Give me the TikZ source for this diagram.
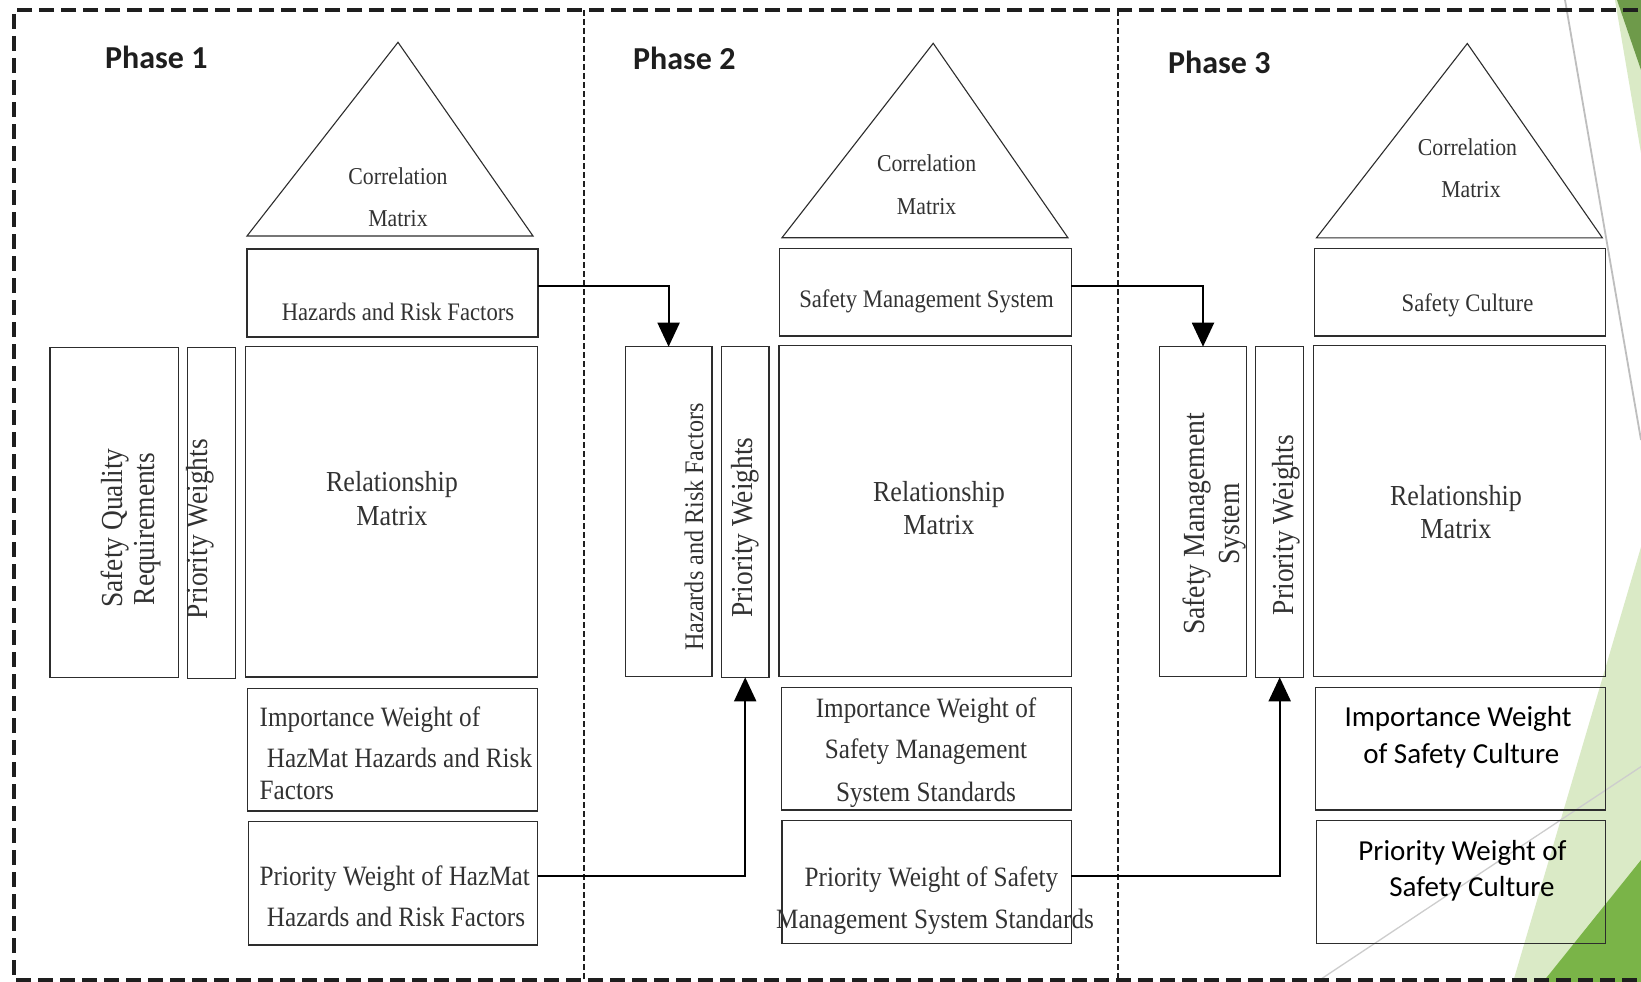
\documentclass[tikz,border=0pt]{standalone}
\usepackage{fontspec}
\usetikzlibrary{arrows.meta}
\newfontfamily\mingfont[FakeStretch=0.9]{Liberation Serif}
\newfontfamily\calibrifont{Carlito}
\definecolor{boxc}{RGB}{45,45,45}
\definecolor{txtc}{RGB}{50,50,50}
\definecolor{phasec}{RGB}{30,30,30}
\definecolor{framec}{RGB}{30,30,30}
\definecolor{lgreen}{RGB}{218,234,198}
\definecolor{dgreen}{RGB}{122,180,72}
\definecolor{dgreentop}{RGB}{110,154,74}
\definecolor{lgrey}{RGB}{190,190,190}
\definecolor{lgrey2}{RGB}{205,205,205}
\newcommand\bx[5]{\node[box,minimum width={#4-#2},minimum height={#5-#3}] (#1) at ({(#2+#4)/2},{(#3+#5)/2}) {};}
\tikzset{
  box/.style={draw=boxc, line width=1.4pt, inner sep=0pt, outer sep=0pt, rectangle},
  tri/.style={draw=boxc, line width=1.1pt, line join=miter},
  mt/.style={font=\mingfont\fontsize{#1}{#1}\selectfont, text=txtc, inner sep=0pt, anchor=base},
  ct/.style={font=\calibrifont\fontsize{#1}{#1}\selectfont, text=black, inner sep=0pt, anchor=base},
  phase/.style={font=\calibrifont\bfseries\fontsize{32}{32}\selectfont, text=phasec, inner sep=0pt, anchor=base west},
  conn/.style={draw=black, line width=2pt, -{Triangle[width=22pt,length=24pt]}},
  frame/.style={draw=framec, line width=3.5pt, dash pattern=on 15pt off 7pt},
  sepline/.style={draw=framec, line width=2pt, dash pattern=on 6pt off 3pt},
}
\begin{document}
\begin{tikzpicture}[x=1pt,y=-1pt]
\useasboundingbox (0,0) rectangle (1641,982);
\clip (0,0) rectangle (1641,982);
\fill[white] (0,0) rectangle (1641,982);
% background decoration
\fill[lgreen] (1615,0) -- (1660,0) -- (1660,160) -- (1641,153) -- cycle;
\fill[dgreentop] (1617,0) -- (1660,0) -- (1660,75) -- (1641,70) -- cycle;
\fill[lgreen] (1641,547) -- (1513,982) -- (1660,982) -- (1660,547) -- cycle;
\fill[dgreen] (1641,860) -- (1543,982) -- (1660,982) -- (1660,860) -- cycle;
\draw[lgrey, line width=1.8pt] (1565,0) -- (1641,440);
\draw[lgrey2, line width=1.3pt] (1645,764) -- (1312,985);
% frame
\draw[frame] (1660,10) -- (14,10) -- (14,980) -- (1660,980);
\coordinate (s1t) at (584.4,10); \coordinate (s1b) at (584.4,980);
\coordinate (s2t) at (1118.3,10); \coordinate (s2b) at (1118.3,980);
\draw[sepline] (s1t) -- (s1b);
\draw[sepline] (s2t) -- (s2b);
% phase labels
\node[phase] (ph1) at (105,69) {Phase 1};
\node[phase] (ph2) at (633,70) {Phase 2};
\node[phase] (ph3) at (1168,73.3) {Phase 3};
% triangles
\draw[tri] (398,42.3) -- (533,236) -- (247,236) -- cycle;
\draw[tri] (933.2,43.3) -- (1067.9,237.7) -- (782,237.7) -- cycle;
\draw[tri] (1467.3,43.5) -- (1602.3,237.8) -- (1316.5,237.8) -- cycle;
\node[mt=24.2] (c1a) at (398,184.3) {Correlation};
\node[mt=24.2] (c1b) at (398,226.7) {Matrix};
\node[mt=24.2] (c2a) at (926.6,171.7) {Correlation};
\node[mt=24.2] (c2b) at (926.6,214.3) {Matrix};
\node[mt=24.2] (c3a) at (1467.5,155.3) {Correlation};
\node[mt=24.2] (c3b) at (1471,197.2) {Matrix};
% phase 1 boxes
\bx{top1}{247}{249}{538}{337}
\bx{sqr}{50}{347.3}{178.6}{677.7}
\bx{pw1}{187.5}{347.3}{235.7}{678.7}
\bx{rel1}{245.7}{346.7}{537.5}{677}
\bx{imp1}{247.6}{688.3}{537.7}{811}
\bx{pri1}{248.4}{821.7}{537.7}{945}
% phase 2 boxes
\bx{top2}{779.6}{248.3}{1071.4}{336}
\bx{hz2}{625.4}{346.7}{711.8}{676.5}
\bx{pw2}{721.4}{346.7}{769}{677.3}
\bx{rel2}{779}{345.7}{1071.4}{676.7}
\bx{imp2}{781.4}{687.3}{1071.4}{810}
\bx{pri2}{782}{820.7}{1071.4}{943.3}
% phase 3 boxes
\bx{top3}{1314.3}{248.5}{1605.7}{336}
\bx{sms3}{1159.3}{346.7}{1246.7}{676.7}
\bx{pw3}{1255.7}{346.7}{1303.7}{677.3}
\bx{rel3}{1313.3}{345.7}{1605.7}{676.3}
\bx{imp3}{1315.7}{687.3}{1605.7}{810}
\bx{pri3}{1316.3}{820.7}{1605.7}{943.3}
% texts phase 1
\node[mt=25.2] (t1) at (398,320) {Hazards and Risk Factors};
\node[mt=30.5, rotate=90] (sq1) at (122,528) {Safety Quality};
\node[mt=30.5, rotate=90] (sq2) at (154,529) {Requirements};
\node[mt=30.5, rotate=90] (pwt1) at (207.7,529) {Priority Weights};
\node[mt=29] (r1a) at (392,491.7) {Relationship};
\node[mt=29] (r1b) at (392,525) {Matrix};
\node[mt=28, anchor=base west] (i1a) at (259.5,726) {Importance Weight of};
\node[mt=28, anchor=base west] (i1b) at (266.7,767.3) {HazMat Hazards and Risk};
\node[mt=28, anchor=base west] (i1c) at (259.5,799.3) {Factors};
\node[mt=28, anchor=base west] (p1a) at (259.5,885) {Priority Weight of HazMat};
\node[mt=28, anchor=base west] (p1b) at (266.7,926.7) {Hazards and Risk Factors};
% texts phase 2
\node[mt=25.2] (t2) at (926.5,307.3) {Safety Management System};
\node[mt=26.8, rotate=90] (hzt) at (703,527) {Hazards and Risk Factors};
\node[mt=30.5, rotate=90] (pwt2) at (752,527.5) {Priority Weights};
\node[mt=29] (r2a) at (939,501.7) {Relationship};
\node[mt=29] (r2b) at (939,534) {Matrix};
\node[mt=28] (i2a) at (926,717.3) {Importance Weight of};
\node[mt=28] (i2b) at (926,758.3) {Safety Management};
\node[mt=28] (i2c) at (926,801.7) {System Standards};
\node[mt=28] (p2a) at (931.4,886) {Priority Weight of Safety};
\node[mt=28] (p2b) at (935,928.3) {Management System Standards};
% texts phase 3
\node[mt=25.2] (t3) at (1467.5,311.8) {Safety Culture};
\node[mt=30.7, rotate=90] (sm1) at (1204,524) {Safety Management};
\node[mt=30.7, rotate=90] (sm2) at (1239,524) {System};
\node[mt=30.5, rotate=90] (pwt3) at (1293.4,525) {Priority Weights};
\node[mt=29] (r3a) at (1456,505) {Relationship};
\node[mt=29] (r3b) at (1456,538.3) {Matrix};
\node[ct=29] (i3a) at (1458,726.7) {Importance Weight};
\node[ct=29] (i3b) at (1461.3,763.3) {of Safety Culture};
\node[ct=29] (p3a) at (1462.5,860) {Priority Weight of};
\node[ct=29] (p3b) at (1472,896.7) {Safety Culture};
% connectors
\draw[conn] ([yshift=7.3pt]top1.east) -| (hz2.north);
\draw[conn] ([yshift=6.45pt]top2.east) -| (sms3.north);
\draw[conn] ([yshift=7.35pt]pri1.east) -| (pw2.south);
\draw[conn] ([yshift=6pt]pri2.east) -| (pw3.south);
\end{tikzpicture}
\end{document}
